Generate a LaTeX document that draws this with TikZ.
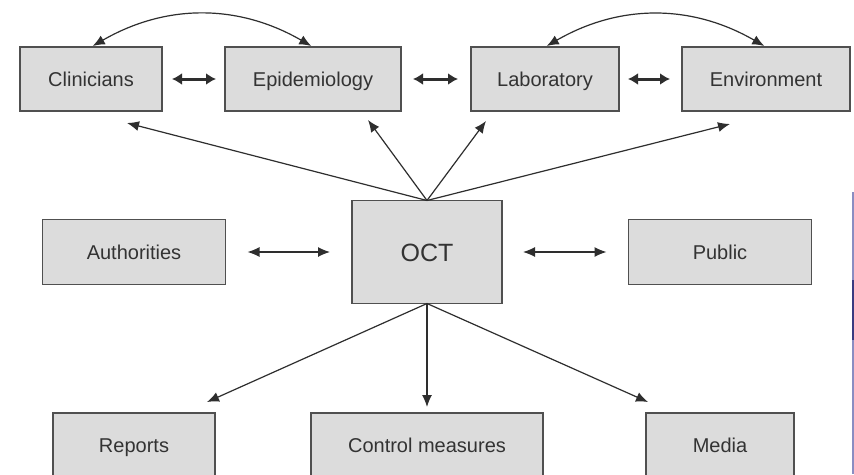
\documentclass[tikz,border=0pt]{standalone}
\usepackage{fontspec}
\setmainfont{Liberation Sans}
\usetikzlibrary{arrows.meta}
\definecolor{boxfill}{HTML}{DCDCDC}
\definecolor{boxline}{HTML}{505050}
\definecolor{inkline}{HTML}{2E2E2E}
\definecolor{scanedge}{HTML}{8A8DC2}
\begin{document}
\begin{tikzpicture}[
  x=1pt, y=-1pt,
  box/.style={rectangle, draw=boxline, fill=boxfill, line width=1.4pt, inner sep=0pt, outer sep=0pt,
    minimum height=64pt, text=black!80, text height=18pt, text depth=3.6pt,
    font=\fontsize{20}{24}\selectfont},
  link/.style={-{Latex[length=12pt,width=10pt]}, draw=inkline, line width=1.2pt},
  both/.style={{Latex[length=12pt,width=10pt]}-{Latex[length=12pt,width=10pt]}, draw=inkline, line width=1.2pt},
  heavy/.style={{Latex[length=10pt,width=12pt]}-{Latex[length=10pt,width=12pt]}, draw=inkline, line width=3pt},
  font=\small
]
\clip (0,0) rectangle (854,474);
\fill[white] (0,0) rectangle (854,474);

% top row
\node[box, minimum width=142pt] (clin) at (91,79) {Clinicians};
\node[box, minimum width=176pt] (epi) at (313,79) {Epidemiology};
\node[box, minimum width=148pt] (lab) at (545,79) {Laboratory};
\node[box, minimum width=168pt] (env) at (766,79) {Environment};

% middle row
\node[box, minimum width=183pt, minimum height=65pt] (auth) at (134,252) {Authorities};
\node[box, minimum width=150pt, minimum height=103pt, text height=20pt, text depth=2pt,
  font=\fontsize{25}{30}\selectfont] (oct) at (427,252) {OCT};
\node[box, minimum width=183pt, minimum height=65pt] (pub) at (720,252) {Public};

% bottom row
\node[box, minimum width=162pt] (rep) at (134,445) {Reports};
\node[box, minimum width=232pt] (ctrl) at (427,445) {Control measures};
\node[box, minimum width=148pt] (media) at (720,445) {Media};

% arrow ends
\coordinate (clinTip) at (127,123);
\coordinate (epiTip) at (368,120);
\coordinate (labTip) at (486,121);
\coordinate (envTip) at (730,124);
\coordinate (repTip) at (207,402);
\coordinate (mediaTip) at (648,402);

\draw[heavy, shorten <=10pt, shorten >=9pt] (clin) -- (epi);
\draw[heavy, shorten <=12pt, shorten >=13pt] (epi) -- (lab);
\draw[heavy, shorten <=9pt, shorten >=12pt] (lab) -- (env);

\draw[both, shorten <=2pt, shorten >=2pt] (clin.north) to[bend left=30] (epi.north);
\draw[both, shorten <=2pt, shorten >=2pt] (lab.north) to[bend left=30] (env.north);

\draw[link] (oct.north) -- (clinTip);
\draw[link] (oct.north) -- (epiTip);
\draw[link] (oct.north) -- (labTip);
\draw[link] (oct.north) -- (envTip);

\draw[both, shorten <=22pt, shorten >=22pt] (auth) -- (oct);
\draw[both, shorten <=21pt, shorten >=22pt] (oct) -- (pub);

\draw[link] (oct.south) -- (repTip);
\draw[link, shorten >=6pt] (oct.south) -- (ctrl.north);
\draw[link] (oct.south) -- (mediaTip);

% scanner edge
\fill[scanedge] (852,192) rectangle (854,474);
\fill[scanedge!70!blue!60!black] (852,280) rectangle (854,340);
\end{tikzpicture}
\end{document}
